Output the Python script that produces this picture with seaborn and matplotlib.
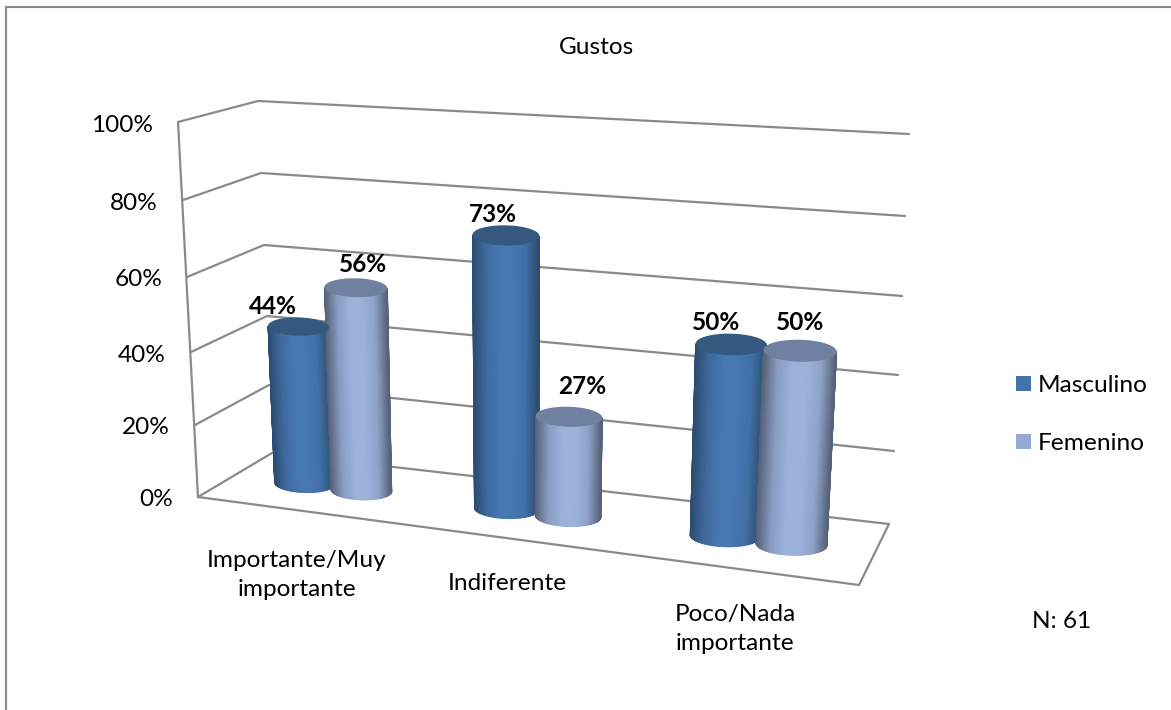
import matplotlib
matplotlib.use('Agg')
import matplotlib.pyplot as plt
from matplotlib.transforms import Transform
from matplotlib.patches import Polygon, Rectangle
import numpy as np
import pandas as pd
import seaborn as sns

categorias = ['Importante/Muy\nimportante', 'Indiferente', 'Poco/Nada\nimportante']
masculino = [44, 73, 50]
femenino = [56, 27, 50]
series = ['Masculino', 'Femenino']
ticks = [0, 20, 40, 60, 80, 100]

sns.set_theme(style='white')
plt.rcParams['font.family'] = ['Lato', 'DejaVu Sans']

W, H = 1171, 710
GRIS = '#8a8a8a'
AZUL = '#4472a8'
CELESTE = '#95aad3'
LETRA = 17.6


def altura(v):
    # the chart's perspective squeezes the upper values a little
    t = np.asarray(v, dtype=float) / 100
    return 0.95 * t / (1 - 0.05 * t)


def punto(x, v, base0=(236, 475), base1=(875, 555), top0=(218, 112), top1=(898, 152)):
    # category/value coordinates to pixels, on the plane where the bars stand
    u = (np.asarray(x, dtype=float) + 0.5) / 3
    g = 0.89 * u / (1 - 0.11 * u)
    f = altura(v)
    bx = base0[0] + (base1[0] - base0[0]) * g
    by = base0[1] + (base1[1] - base0[1]) * g
    tx = top0[0] + (top1[0] - top0[0]) * g
    ty = top0[1] + (top1[1] - top0[1]) * g
    return bx + (tx - bx) * f, by + (ty - by) * f


class Proyeccion(Transform):
    input_dims = 2
    output_dims = 2

    def transform_non_affine(self, values):
        values = np.asarray(values)
        px, py = punto(values[:, 0], values[:, 1])
        return np.column_stack([px, py])


df = pd.DataFrame({
    'Categoria': categorias * 2,
    'Valor': masculino + femenino,
    'Serie': [series[0]] * 3 + [series[1]] * 3,
})

fig = plt.figure(figsize=(W / 100, H / 100), dpi=100, facecolor='white')
ax = fig.add_axes([0, 0, 1, 1], zorder=0)
pix = fig.add_axes([0, 0, 1, 1], zorder=1)
pix.set_xlim(0, W)
pix.set_ylim(H, 0)
pix.axis('off')
pix.set_autoscale_on(False)

sns.barplot(data=df, x='Categoria', y='Valor', hue='Serie', hue_order=series,
            palette=[AZUL, CELESTE], saturation=1, width=0.58, gap=-0.05,
            errorbar=None, legend=False, ax=ax)
ax.set_xlim(-0.5, 2.5)
ax.set_ylim(0, 100)
ax.axis('off')

# walls and floor
frente_izq = [(178, 122), (183, 200), (187, 277), (191, 352), (195, 425), (198, 497)][::-1]
fondo_izq = [(258, 101), (261, 173), (264, 245), (267, 316), (269, 385), (272, 453)][::-1]
fondo_der = [(909, 134), (905, 216), (902, 296), (898, 375), (894, 451), (889, 524)][::-1]
frente_der = (859, 585)


def linea(puntos):
    xs, ys = zip(*puntos)
    pix.plot(xs, ys, color=GRIS, lw=1.6, zorder=1, solid_capstyle='round')


for a, b, c in zip(frente_izq, fondo_izq, fondo_der):
    linea([a, b, c])
linea([frente_izq[0], frente_izq[-1]])
linea([frente_izq[0], frente_der, fondo_der[0]])

# page frame
pix.plot([6, 6, W], [H, 7, 7], color=GRIS, lw=1.5, zorder=1)

# tick labels
for tick, (fx, fy) in zip(ticks, frente_izq):
    pix.text(fx - 25, fy + 3, f'{tick}%', ha='right', va='center', fontsize=LETRA, color='black')

# bars: seaborn's rectangles are projected, then shaded as cylinders
colores = {
    AZUL: (['#2c4c70', '#3f6a9f', '#4878b0', '#4878b0', '#4070a6', '#2c4c70'], '#35587f'),
    CELESTE: (['#566278', '#8a9cc2', '#9db2da', '#9db2da', '#8fa2c8', '#566278'], '#6f80a0'),
}
barras = [p for p in ax.patches if p.get_height() > 0]
valor_color = [AZUL] * 3 + [CELESTE] * 3
tr = Proyeccion() + pix.transData
theta = np.linspace(0, np.pi, 70)
s = -np.cos(theta)
for barra, clave in zip(barras, valor_color):
    barra.set_transform(tr)
    barra.set_clip_on(False)
    x0, w, v = barra.get_x(), barra.get_width(), barra.get_height()
    gradiente, tapa = colores[clave]
    cmap = sns.blend_palette(gradiente, as_cmap=True)
    filas_x, filas_y = [], []
    for t in (0, v):
        lx, ly = punto(x0, t)
        rx, ry = punto(x0 + w, t)
        cx, cy = (lx + rx) / 2, (ly + ry) / 2
        dx, dy = (rx - lx) / 2, (ry - ly) / 2
        rad = 0.3 * np.hypot(dx, dy)
        # the ellipses lean much less than the plane they sit on
        filas_x.append(cx + s * dx)
        filas_y.append(cy + 0.25 * s * dy + rad * np.sin(theta))
    C = np.tile((s + 1) / 2, (2, 1))
    pix.pcolormesh(np.array(filas_x), np.array(filas_y), C, cmap=cmap, vmin=0, vmax=1,
                   shading='gouraud', zorder=2)
    fi = np.linspace(0, 2 * np.pi, 90)
    pix.add_patch(Polygon(np.column_stack([cx + np.cos(fi) * dx, cy + 0.25 * np.cos(fi) * dy + rad * np.sin(fi)]),
                          closed=True, facecolor=tapa, edgecolor='none', zorder=3))

# texts
pix.text(596, 48, 'Gustos', ha='center', va='center', fontsize=LETRA, color='black')
etiquetas_pos = [(273, 306), (493, 214), (716, 323), (363, 265), (582, 387), (800, 323)]
for val, (tx, ty) in zip(masculino + femenino, etiquetas_pos):
    pix.text(tx, ty, f'{val}%', ha='center', va='center', fontsize=LETRA, fontweight='bold', color='black')
cat_pos = [(297, 575), (507, 584), (735, 629)]
for cat, (tx, ty) in zip(categorias, cat_pos):
    pix.text(tx, ty, cat, ha='center', va='center', fontsize=LETRA, color='black', linespacing=1.5)

# legend
for nombre, col, ly in zip(series, [AZUL, CELESTE], [384, 442]):
    pix.add_patch(Rectangle((1016, ly - 8), 15, 15, facecolor=col, edgecolor='none', zorder=3))
    pix.text(1038, ly + 1, nombre, ha='left', va='center', fontsize=LETRA, color='black')
pix.text(1062, 622, 'N: 61', ha='center', va='center', fontsize=LETRA, color='black')

fig.savefig('out.png', dpi=100)
